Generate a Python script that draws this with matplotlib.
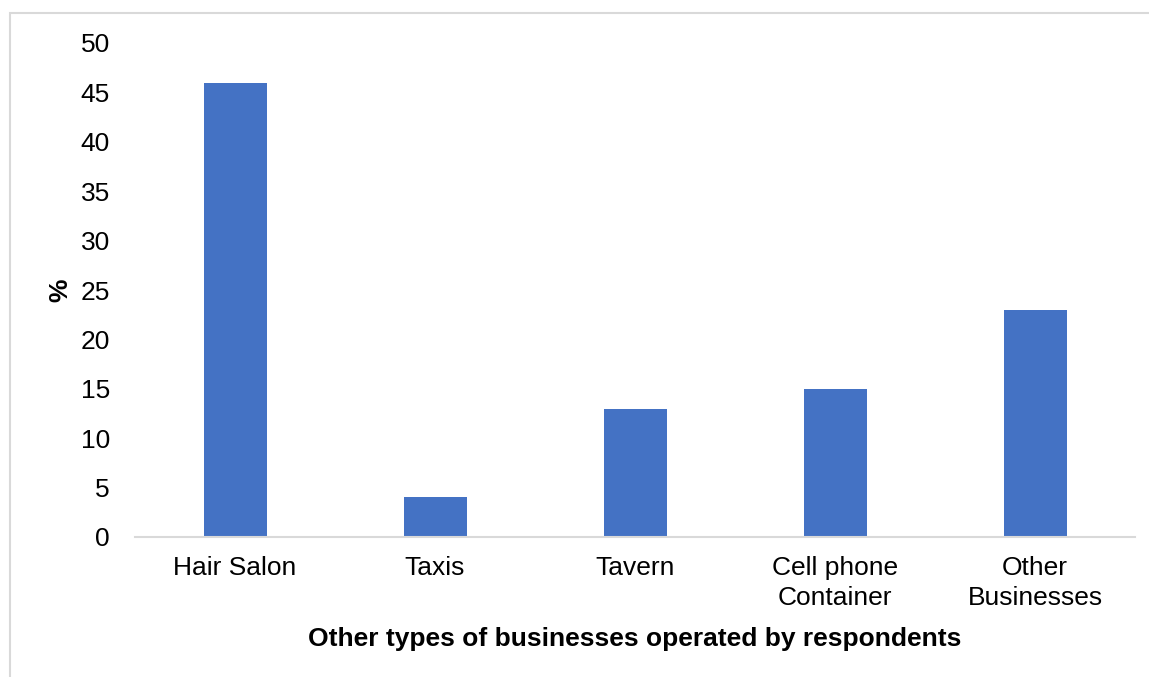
import matplotlib.pyplot as plt
from matplotlib.patches import Rectangle

plt.rcParams['font.family'] = ['Liberation Sans', 'DejaVu Sans']

categories = ['Hair Salon', 'Taxis', 'Tavern', 'Cell phone\nContainer', 'Other\nBusinesses']
values = [46, 4, 13, 15, 23]
yticks = [0, 5, 10, 15, 20, 25, 30, 35, 40, 45, 50]

fig = plt.figure(figsize=(11.49, 6.77), dpi=100)
ax = fig.add_axes([135 / 1149, 140 / 677, 1000 / 1149, 494 / 677])

x = range(len(categories))
ax.bar(x, values, width=0.315, color='#4472C4')

ax.set_xlim(-0.5, len(categories) - 0.5)
ax.set_ylim(0, 50)
ax.set_yticks(yticks)
ax.set_xticks(list(x))
ax.set_xticklabels(categories, linespacing=1.3)
ax.tick_params(axis='y', length=0, pad=18, labelsize=19)
ax.tick_params(axis='x', length=0, pad=14, labelsize=19)

for side in ['top', 'right', 'left']:
    ax.spines[side].set_visible(False)
ax.spines['bottom'].set_color('#d9d9d9')
ax.spines['bottom'].set_linewidth(1.5)

ax.set_ylabel('%', fontsize=19, fontweight='bold', labelpad=6)
ax.set_xlabel('Other types of businesses operated by respondents',
              fontsize=19, fontweight='bold', labelpad=12)

# chart-area frame, open on the right and bottom edges
fig.patches.append(Rectangle((10 / 1149, -0.1), 1.2, (664 / 677) + 0.1,
                             transform=fig.transFigure, fill=False,
                             edgecolor='#d9d9d9', linewidth=1.5))

fig.savefig('out.png', dpi=100)
